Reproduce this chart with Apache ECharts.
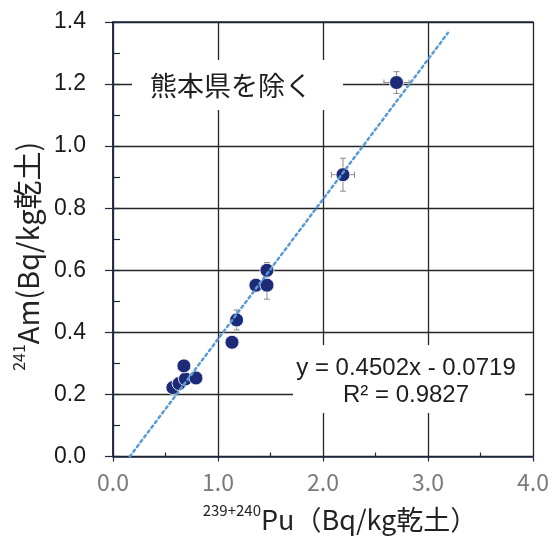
<!DOCTYPE html>
<html><head><meta charset="utf-8">
<script src="https://cdn.jsdelivr.net/npm/echarts@6/dist/echarts.min.js"></script>
<style>html,body{margin:0;padding:0;background:#fff}#c{width:552px;height:538px}</style>
</head><body><div id="c"></div>
<script>
// Data
const puValues = [0.57, 0.63, 0.69, 0.79, 0.675, 1.133, 1.177, 1.361, 1.466, 1.466, 2.19, 2.70];
const amValues = [0.222, 0.235, 0.250, 0.253, 0.292, 0.368, 0.440, 0.552, 0.552, 0.600, 0.908, 1.205];
const puErrors = [0.015, 0.015, 0.015, 0.02, 0.015, 0.015, 0.02, 0.05, 0.06, 0.04, 0.11, 0.12];
const amErrors = [0.01, 0.01, 0.01, 0.01, 0.012, 0.015, 0.032, 0.02, 0.045, 0.025, 0.053, 0.035];
const trendX = [0.16, 3.19];
const trendY = [0.0, 1.365];
const xTickLabels = ['0.0', '1.0', '2.0', '3.0', '4.0'];
const yTickLabels = ['0.0', '0.2', '0.4', '0.6', '0.8', '1.0', '1.2', '1.4'];
const noteText = '熊本県を除く';
const eqLines = ['y = 0.4502x - 0.0719', 'R² = 0.9827'];

const points = puValues.map((x, i) => [x, amValues[i]]);
const errData = puValues.map((x, i) => [x, amValues[i], puErrors[i], amErrors[i]]);
const trendData = trendX.map((x, i) => [x, trendY[i]]);

const axisColor = '#1c2940';
const gridColor = '#262626';
const chart = echarts.init(document.getElementById('c'), null, {renderer: 'canvas'});

const G = {left: 113, right: 18, top: 22, bottom: 79};

chart.setOption({
  animation: false,
  backgroundColor: '#fff',
  grid: {left: G.left, right: G.right, top: G.top, bottom: G.bottom, containLabel: false},
  xAxis: [
    {
      type: 'value', min: 0, max: 4, interval: 1, position: 'bottom',
      name: '{sup|239+240}{main|Pu（Bq/kg乾土）}',
      nameLocation: 'middle', nameGap: 46,
      nameTextStyle: {
        padding: [0, 0, 0, 34],
        rich: {
          sup: {fontSize: 15, lineHeight: 20, verticalAlign: 'top', fontFamily: 'Noto Sans CJK JP', color: '#222'},
          main: {fontSize: 27, lineHeight: 34, fontFamily: 'Noto Sans CJK JP', color: '#222'}
        }
      },
      axisLine: {show: true, lineStyle: {color: axisColor, width: 1.5}},
      axisTick: {show: true, inside: false, length: 5, lineStyle: {color: axisColor, width: 1.2}},
      axisLabel: {
        margin: 14, fontSize: 23, color: '#7a7a7a', fontFamily: 'Noto Sans CJK JP',
        formatter: v => xTickLabels[Math.round(v)]
      },
      splitLine: {show: true, lineStyle: {color: gridColor, width: 1.3}}
    },
    {
      type: 'value', min: 0, max: 4, interval: 1, position: 'bottom',
      axisLine: {show: false}, axisLabel: {show: false}, splitLine: {show: false},
      axisTick: {show: false, inside: true},
      minorTick: {show: true, splitNumber: 2, length: 4, lineStyle: {color: axisColor, width: 1.2}}
    },
    {
      type: 'value', min: 0, max: 4, interval: 1, position: 'top',
      axisLine: {show: true, lineStyle: {color: axisColor, width: 1.5}},
      axisLabel: {show: false}, axisTick: {show: false}, splitLine: {show: false}
    }
  ],
  yAxis: [
    {
      type: 'value', min: 0, max: 1.4, interval: 0.2, position: 'left',
      name: '{sup|241}{main|Am(Bq/kg乾土)}',
      nameLocation: 'middle', nameGap: 68, nameRotate: 90,
      nameTextStyle: {
        padding: [0, 34, 0, 0],
        rich: {
          sup: {fontSize: 16, lineHeight: 20, verticalAlign: 'top', fontFamily: 'Noto Sans CJK JP', color: '#222'},
          main: {fontSize: 29, lineHeight: 34, fontFamily: 'Noto Sans CJK JP', color: '#222'}
        }
      },
      axisLine: {show: true, lineStyle: {color: axisColor, width: 1.5}},
      axisTick: {show: true, inside: true, length: 7, lineStyle: {color: axisColor, width: 1.2}},
      minorTick: {show: true, splitNumber: 2, length: 7, lineStyle: {color: axisColor, width: 1.2}},
      axisLabel: {
        margin: 27, fontSize: 23, color: '#1a1a1a', fontFamily: 'Liberation Sans',
        formatter: v => yTickLabels[Math.round(v * 5)]
      },
      splitLine: {show: true, lineStyle: {color: gridColor, width: 1.3}}
    },
    {
      type: 'value', min: 0, max: 1.4, interval: 0.2, position: 'right',
      axisLine: {show: true, lineStyle: {color: axisColor, width: 1.5}},
      axisTick: {show: true, inside: true, length: 8, lineStyle: {color: axisColor, width: 1.2}},
      axisLabel: {show: false}, splitLine: {show: false}
    }
  ],
  graphic: [
    {type: 'rect', z: 1, shape: {x: 132, y: 60, width: 211, height: 50}, style: {fill: '#fff'}},
    {type: 'text', z: 1, x: 231, y: 86, style: {text: noteText, fontSize: 27, fontFamily: 'Noto Sans CJK JP', fill: '#1e1e1e', align: 'center', verticalAlign: 'middle'}},
    {type: 'rect', z: 1, shape: {x: 293, y: 345, width: 232, height: 68}, style: {fill: '#fff'}},
    {type: 'text', z: 1, x: 406, y: 368, style: {text: eqLines[0], fontSize: 24, fontFamily: 'Liberation Sans', fill: '#1e1e1e', align: 'center', verticalAlign: 'middle'}},
    {type: 'text', z: 1, x: 406, y: 395, style: {text: eqLines[1], fontSize: 24, fontFamily: 'Liberation Sans', fill: '#1e1e1e', align: 'center', verticalAlign: 'middle'}}
  ],
  series: [
    {
      type: 'custom', z: 2, data: errData, silent: true,
      renderItem: (params, api) => {
        const x = api.value(0), y = api.value(1), ex = api.value(2), ey = api.value(3);
        const l = api.coord([x - ex, y]), r = api.coord([x + ex, y]);
        const t = api.coord([x, y + ey]), b = api.coord([x, y - ey]);
        const st = {stroke: '#8a8a8a', lineWidth: 1};
        const c = 3;
        return {type: 'group', children: [
          {type: 'line', shape: {x1: l[0], y1: l[1], x2: r[0], y2: r[1]}, style: st},
          {type: 'line', shape: {x1: l[0], y1: l[1] - c, x2: l[0], y2: l[1] + c}, style: st},
          {type: 'line', shape: {x1: r[0], y1: r[1] - c, x2: r[0], y2: r[1] + c}, style: st},
          {type: 'line', shape: {x1: t[0], y1: t[1], x2: b[0], y2: b[1]}, style: st},
          {type: 'line', shape: {x1: t[0] - c, y1: t[1], x2: t[0] + c, y2: t[1]}, style: st},
          {type: 'line', shape: {x1: b[0] - c, y1: b[1], x2: b[0] + c, y2: b[1]}, style: st}
        ]};
      }
    },
    {
      type: 'scatter', z: 3, data: points, symbol: 'circle', symbolSize: 14,
      itemStyle: {color: '#1d2a78', borderColor: 'rgba(255,255,255,0.85)', borderWidth: 1, opacity: 1}
    },
    {
      type: 'line', z: 4, data: trendData, symbol: 'none', silent: true,
      lineStyle: {color: '#5b9bd5', width: 2.5, type: [2.5, 3.5], cap: 'round'}
    }
  ]
});
</script>
</body></html>
